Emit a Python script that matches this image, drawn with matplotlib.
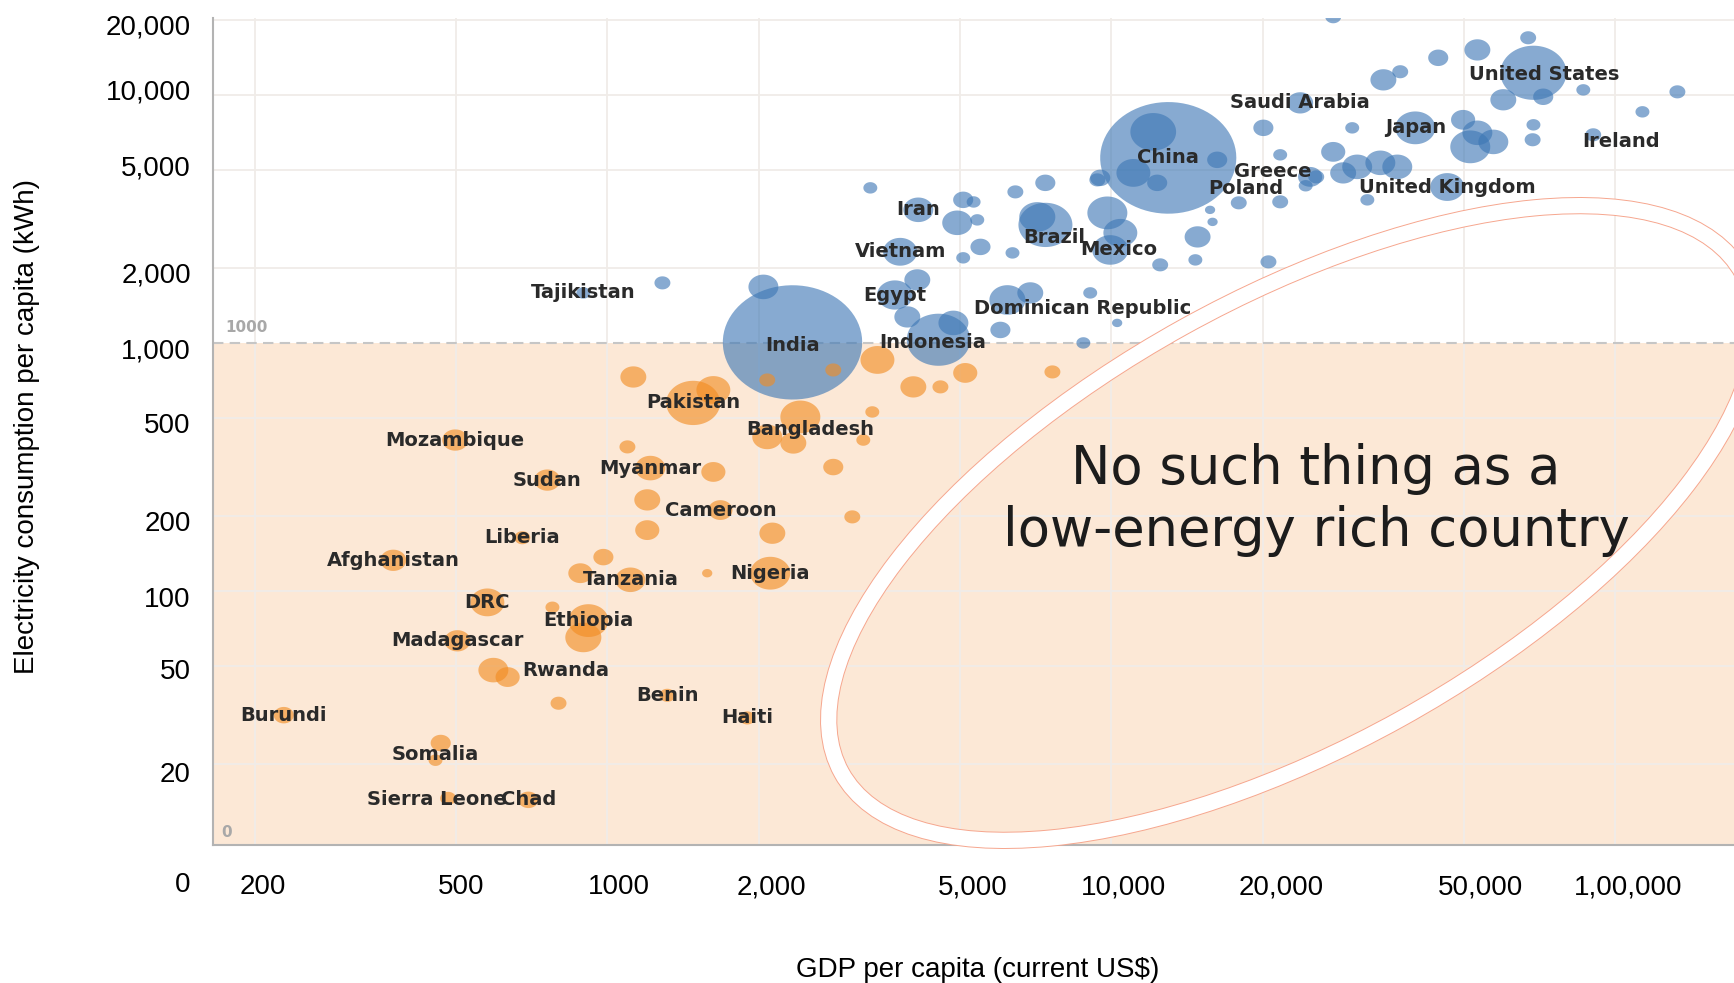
import numpy as np
import matplotlib
matplotlib.use('Agg')
import matplotlib.pyplot as plt
from matplotlib.patches import Ellipse
from matplotlib.path import Path
from matplotlib.ticker import NullLocator
from matplotlib.transforms import ScaledTranslation

# labelled countries: GDP per capita (US$), electricity per capita (kWh), population (millions)
countries = ["Tajikistan", "India", "Indonesia", "Egypt", "Dominican Republic", "Vietnam",
             "Iran", "Brazil", "Mexico", "China", "Saudi Arabia", "Greece", "Poland",
             "Japan", "United States", "Ireland", "United Kingdom", "Pakistan", "Bangladesh",
             "Mozambique", "Sudan", "Myanmar", "Cameroon", "Liberia", "Afghanistan",
             "Tanzania", "Nigeria", "DRC", "Ethiopia", "Madagascar", "Rwanda", "Benin",
             "Haiti", "Burundi", "Somalia", "Sierra Leone", "Chad"]
gdp = [896, 2330, 4540, 3720, 6220, 3810, 4140, 7400, 9950, 12970, 23700, 24800, 17900,
       40100, 68800, 90400, 46400, 1480, 2415, 499, 760, 1217, 1676, 678, 376,
       1111, 2105, 578, 917, 504, 594, 1315, 1895, 228, 467, 483, 697]
kwh = [1590, 1005, 1030, 1560, 1490, 2330, 3440, 2990, 2370, 5570, 9280, 4670, 3670,
       7360, 12270, 6900, 4250, 573, 503, 406, 280, 313, 212, 164, 133,
       111, 118, 90, 76, 63, 48, 38, 30.8, 31.6, 24.4, 14.6, 14.4]
pop = [13, 1300, 270, 85, 87, 77, 60, 195, 87, 1240, 45, 39, 17,
       107, 292, 17, 77, 195, 107, 45, 45, 60, 39, 17, 45,
       60, 107, 77, 107, 45, 60, 17, 17, 27, 27, 17, 27]

# unlabelled bubbles
other_gdp = [1286, 2040, 3325, 5082, 5330, 4945, 5420, 5500, 5082, 6450, 7396, 7130, 6366,
             9820, 10420, 12500, 14830, 14680, 9380, 12110, 11060, 12330, 9506, 16220,
             15700, 15880, 6905, 9080, 4121, 3937, 4860, 6024, 8800, 10270,
             27560, 20030, 21630, 21630, 20500, 27560, 30060, 28840, 30750, 34180, 36930,
             32210, 34660, 37430, 44530, 53250, 67160, 71940, 59950, 49890, 53250, 57280,
             51550, 68800, 68540, 86400, 113200, 132800, 25500, 24300,
             1126, 1096, 1623, 1200, 1200, 982, 884, 1578, 778, 896, 634, 800, 456,
             1623, 2076, 2807, 2339, 2076, 3220, 3355, 3435, 4047, 4580, 5130, 7640,
             2807, 3062, 2125]
other_kwh = [1746, 1682, 4217, 3773, 3700, 3049, 3133, 2438, 2203, 4062, 4418, 3220, 2306,
             3343, 2778, 2064, 2675, 2161, 4540, 7095, 4845, 4418, 4627, 5470,
             3438, 3075, 1591, 1591, 1795, 1273, 1204, 1128, 1000, 1204,
             20640, 7360, 5730, 3704, 2122, 5890, 7360, 4845, 5125, 5320, 5125,
             3773, 11490, 12390, 14100, 15170, 16980, 9820, 9550, 7930, 7030, 6460,
             6170, 7570, 6590, 10470, 8540, 10280, 4670, 4300,
             729, 381, 302, 233, 176, 137, 118, 118, 86, 65, 45, 35.3, 20.8,
             646, 709, 778, 395, 418, 406, 527, 854, 665, 665, 757, 764,
             316, 199, 171]
other_pop = [17, 60, 13, 27, 13, 60, 13, 27, 13, 17, 27, 87, 13,
             107, 77, 17, 45, 13, 17, 140, 77, 27, 27, 27,
             7, 7, 45, 13, 45, 45, 60, 27, 13, 7,
             17, 27, 13, 17, 17, 39, 13, 45, 60, 60, 60,
             13, 45, 17, 27, 45, 17, 27, 45, 39, 60, 60,
             107, 13, 17, 13, 13, 17, 17, 13,
             45, 17, 39, 45, 39, 27, 39, 7, 13, 87, 39, 17, 13,
             77, 17, 17, 45, 60, 13, 13, 77, 45, 17, 39, 17,
             27, 17, 45]

x_ticks = [200, 500, 1000, 2000, 5000, 10000, 20000, 50000, 100000]
x_tick_labels = ["200", "500", "1000", "2,000", "5,000", "10,000", "20,000", "50,000", "1,00,000"]
y_ticks = [20, 50, 100, 200, 500, 1000, 2000, 5000, 10000, 20000]
y_tick_labels = ["20", "50", "100", "200", "500", "1,000", "2,000", "5,000", "10,000", "20,000"]

# label nudges in points (dx, dy)
nudge = {"India": (0, -2), "Indonesia": (-4, -2), "Dominican Republic": (54, -6),
         "Brazil": (6, -9), "Mexico": (6, 0), "Greece": (-27, 4), "Poland": (5, 10),
         "United States": (8, -1), "Ireland": (20, -5), "Bangladesh": (7, -9),
         "Rwanda": (52, 0), "Somalia": (-4, -8), "Sierra Leone": (-8, -1)}
# the pasted tick labels sit a little off the grid lines (pixels)
x_label_shift = [8, 5, 12, 12, 13, 12, 18, 17, 13]
y_label_shift = [8, 3, 6, 5, 5, 6, 4, -4, -5, 4]

plt.rcParams['font.family'] = ['Liberation Sans', 'DejaVu Sans']

fig = plt.figure(figsize=(17.34, 9.83), dpi=100)
ax = fig.add_axes([213/1734, 138/983, 1521/1734, 827/983])
ax.set_xscale('log')
ax.set_yscale('log')
ax.set_xlim(165, 172000)
ax.set_ylim(9.47, 20400)

ax.axhspan(1, 1000, color='#fce8d6', zorder=0, lw=0)
for v in x_ticks:
    ax.axvline(v, color='#f0ece8', lw=1.3, zorder=0.5)
for v in y_ticks:
    if v != 1000:
        ax.axhline(v, color='#f0ece8', lw=1.3, zorder=0.5)
ax.axhline(1000, color='#c6c6c6', lw=1.5, ls=(0, (5, 3)), zorder=1)

# stretched-circle marker (the source screenshot is wider than tall)
t = np.linspace(0, 2*np.pi, 80)
oval = Path(np.column_stack([np.cos(t), 0.82*np.sin(t)]), closed=True)

all_x = np.array(gdp + other_gdp, dtype=float)
all_y = np.array(kwh + other_kwh, dtype=float)
all_p = np.array(pop + other_pop, dtype=float)
order = np.argsort(-all_p)
cols = np.where(all_y >= 900, '#3d77b5', '#f28c22')
ax.scatter(all_x[order], all_y[order], s=7.75*all_p[order], c=cols[order],
           alpha=0.62, marker=oval, linewidths=0, zorder=3)

for name, gx, ky in zip(countries, gdp, kwh):
    dx, dy = nudge.get(name, (0, 0))
    ax.annotate(name, (gx, ky), xytext=(dx, dy), textcoords='offset points',
                ha='center', va='center', fontsize=14, fontweight='bold',
                family='DejaVu Sans', color='#2a2a2a', zorder=4)

ax.text(0.0217, 1150, '1000', transform=ax.get_yaxis_transform(), ha='center', va='center',
        fontsize=11, fontweight='bold', family='DejaVu Sans', color='#a8a8a8', zorder=2)
ax.text(0.0092, 0.0157, '0', transform=ax.transAxes, ha='center', va='center',
        fontsize=11, fontweight='bold', family='DejaVu Sans', color='#a8a8a8', zorder=2)

for s in ['top', 'right']:
    ax.spines[s].set_visible(False)
for s in ['left', 'bottom']:
    ax.spines[s].set_color('#b3b3b3')
    ax.spines[s].set_linewidth(1.5)

ax.set_xticks(x_ticks, x_tick_labels)
ax.set_yticks(y_ticks, y_tick_labels)
ax.xaxis.set_minor_locator(NullLocator())
ax.yaxis.set_minor_locator(NullLocator())
ax.tick_params(axis='x', length=0, labelsize=20, pad=21)
ax.tick_params(axis='y', length=0, labelsize=20, pad=16)
for lab, sh in zip(ax.get_xticklabels(), x_label_shift):
    lab.set_transform(lab.get_transform() + ScaledTranslation(sh/100, 0, fig.dpi_scale_trans))
for lab, sh in zip(ax.get_yticklabels(), y_label_shift):
    lab.set_transform(lab.get_transform() + ScaledTranslation(0, -sh/100, fig.dpi_scale_trans))

fig.text(183/1734, 1 - 885/983, '0', fontsize=20, ha='center', va='center')
fig.text(978/1734, 1 - 970/983, 'GDP per capita (current US$)', fontsize=20, ha='center', va='center')
fig.text(27/1734, 1 - 426/983, 'Electricity consumption per capita (kWh)', fontsize=20,
         rotation=90, ha='center', va='center')

# highlight ellipse (figure inches)
for lw, col in [(12.4, '#f6a68e'), (11, 'white')]:
    e = Ellipse((12.92, (983 - 523)/100), 2*5.15, 2*2.24, angle=29,
                transform=fig.dpi_scale_trans, fill=False, lw=lw, edgecolor=col, zorder=5)
    fig.add_artist(e)

fig.text(1316/1734, 1 - 500/983, 'No such thing as a\nlow-energy rich country', fontsize=38,
         family='DejaVu Sans', color='#1c1c1c', ha='center', va='center', linespacing=1.23,
         zorder=6)

fig.savefig('out.png', dpi=100)
